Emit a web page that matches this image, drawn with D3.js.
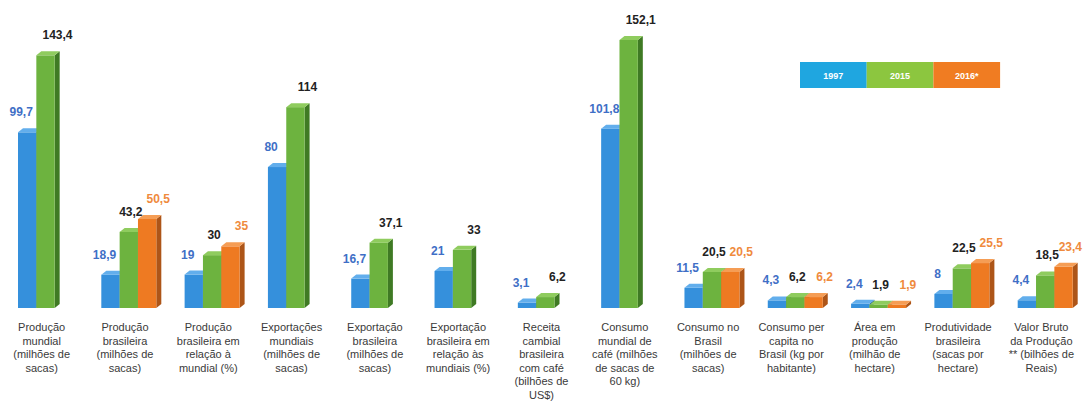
<!DOCTYPE html>
<html>
<head>
<meta charset="utf-8">
<script src="https://cdn.jsdelivr.net/npm/d3@7"></script>
<style>
  body { margin: 0; background: #fff; }
  text { font-family: "Liberation Sans", Arial, sans-serif; }
</style>
</head>
<body>
<div id="chart-area"></div>
<script>
const WIDTH = 1083
const HEIGHT = 401
const BASE = 308

// categories (each one split in lines, as in the picture)
const categories = [
  ["Produção", "mundial", "(milhões de", "sacas)"],
  ["Produção", "brasileira", "(milhões de", "sacas)"],
  ["Produção", "brasileira em", "relação à", "mundial (%)"],
  ["Exportações", "mundiais", "(milhões de", "sacas)"],
  ["Exportação", "brasileira", "(milhões de", "sacas)"],
  ["Exportação", "brasileira em", "relação às", "mundiais (%)"],
  ["Receita", "cambial", "brasileira", "com café", "(bilhões de", "US$)"],
  ["Consumo", "mundial de", "café (milhões", "de sacas de", "60 kg)"],
  ["Consumo no", "Brasil", "(milhões de", "sacas)"],
  ["Consumo per", "capita no", "Brasil (kg por", "habitante)"],
  ["Área em", "produção", "(milhão de", "hectare)"],
  ["Produtividade", "brasileira", "(sacas por", "hectare)"],
  ["Valor Bruto", "da Produção", "** (bilhões de", "Reais)"]
]

const years = ["1997", "2015", "2016*"]
const v1997 = [99.7, 18.9, 19, 80, 16.7, 21, 3.1, 101.8, 11.5, 4.3, 2.4, 8, 4.4]
const v2015 = [143.4, 43.2, 30, 114, 37.1, 33, 6.2, 152.1, 20.5, 6.2, 1.9, 22.5, 18.5]
const v2016 = [null, 50.5, 35, null, null, null, null, null, 20.5, 6.2, 1.9, 25.5, 23.4]

const series = [v1997, v2015, v2016]

const frontColor = ["#3590dc", "#6db33f", "#ee7a22"]
const sideColor = ["#1f5d9c", "#3f7a24", "#ad5518"]
const topColor = ["#62aeec", "#8fcc5e", "#f59d55"]
const labelColor = ["#3f6fc6", "#222222", "#ef8a3d"]
const legendColor = ["#1fa6e0", "#8cc63f", "#f07c22"]

const fmt = v => Number.isInteger(v) ? String(v) : v.toFixed(1).replace(".", ",")

const svg = d3.select("#chart-area").append("svg")
  .attr("width", WIDTH)
  .attr("height", HEIGHT)

const x = d3.scaleBand()
  .domain(d3.range(categories.length))
  .range([0, WIDTH])

const sub = d3.scaleBand()
  .domain(d3.range(3))
  .range([18, 18 + 55])

const y = d3.scaleLinear()
  .domain([0, 152.1])
  .range([BASE, 40])

const D = 5   // depth of the 3d effect
const DY = 4

const bars = []
series.forEach((s, si) => {
  s.forEach((v, ci) => {
    if (v !== null) bars.push({ si, ci, v, three: v2016[ci] !== null })
  })
})

// label shift, the green one moves less when an orange bar follows
const labelDx = d => d.si === 0 ? -6 : d.si === 2 ? 11 : (d.three ? 2 : 12)

const g = svg.append("g")

bars.forEach(b => {
  const x0 = x(b.ci) + sub(b.si)
  const w = sub.bandwidth()
  const yt = y(b.v)
  const grp = g.append("g")
  grp.append("polygon")
    .attr("points", [[x0 + w, yt], [x0 + w + D, yt - DY], [x0 + w + D, BASE - DY], [x0 + w, BASE]].join(" "))
    .attr("fill", sideColor[b.si])
  grp.append("rect")
    .attr("x", x0)
    .attr("y", yt)
    .attr("width", w)
    .attr("height", BASE - yt)
    .attr("fill", frontColor[b.si])
  grp.append("polygon")
    .attr("points", [[x0, yt], [x0 + D, yt - DY], [x0 + w + D, yt - DY], [x0 + w, yt]].join(" "))
    .attr("fill", topColor[b.si])
})

// value labels
g.selectAll("text.val").data(bars).enter().append("text")
  .attr("class", "val")
  .attr("x", d => x(d.ci) + sub(d.si) + sub.bandwidth() / 2 + labelDx(d))
  .attr("y", d => y(d.v) - 16)
  .attr("text-anchor", "middle")
  .attr("font-size", "12px")
  .attr("font-weight", "bold")
  .attr("fill", d => labelColor[d.si])
  .text(d => fmt(d.v))
  .each(function () {
    // keep the last label inside the picture
    const half = this.getComputedTextLength() / 2
    const cx = +d3.select(this).attr("x")
    if (cx + half > WIDTH - 1) d3.select(this).attr("x", WIDTH - 1 - half)
  })

// category labels
const cat = svg.append("g").selectAll("text").data(categories).enter().append("text")
  .attr("x", (d, i) => x(i) + x.bandwidth() / 2)
  .attr("y", 331)
  .attr("text-anchor", "middle")
  .attr("font-size", "11px")
  .attr("fill", "#3a3a3a")

cat.selectAll("tspan").data(d => d).enter().append("tspan")
  .attr("x", function () { return d3.select(this.parentNode).attr("x") })
  .attr("dy", (d, i) => i === 0 ? 0 : 13.6)
  .text(d => d)

// legend
const legend = svg.append("g").attr("transform", "translate(800, 62)")
years.forEach((yr, i) => {
  legend.append("rect")
    .attr("x", i * 66.7)
    .attr("y", 0)
    .attr("width", 66.7)
    .attr("height", 26)
    .attr("fill", legendColor[i])
  legend.append("text")
    .attr("x", i * 66.7 + 33.3)
    .attr("y", 16.5)
    .attr("text-anchor", "middle")
    .attr("font-size", "9px")
    .attr("font-weight", "bold")
    .attr("fill", "#fff")
    .text(yr)
})
</script>
</body>
</html>
